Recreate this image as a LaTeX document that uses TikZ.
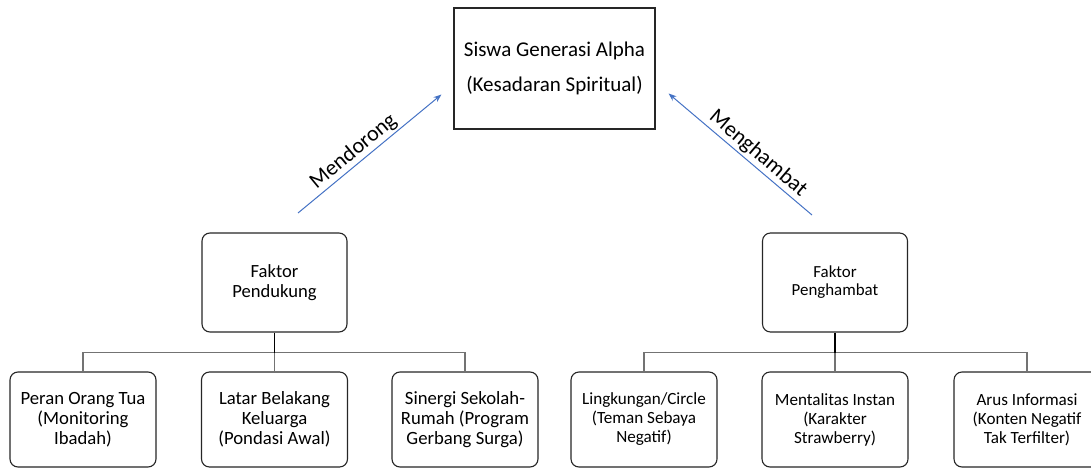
\documentclass[tikz,border=0pt]{standalone}
\usepackage{fontspec}
\setmainfont{Carlito}
\usepackage{tikz}
\usetikzlibrary{arrows.meta}
\definecolor{arrowblue}{RGB}{68,114,196}

\begin{document}
\begin{tikzpicture}[
                    x=1pt, y=-1pt,
                    every node/.style={fill=white},
                    block/.style={rectangle, draw=black!85, line width=1.1pt, minimum width=201pt, minimum height=121pt, inner sep=2pt},
                    faktor/.style={rectangle, rounded corners=8pt, draw=black!85, line width=1.1pt, minimum width=145pt, minimum height=99pt, inner sep=2pt},
                    item/.style={faktor, minimum width=146pt, minimum height=95pt},
                    conn/.style={draw=black!55, line width=1.4pt},
                    stub/.style={draw=black, line width=1.6pt},
                    dorong/.style={draw=arrowblue, line width=1pt, -{Stealth[length=8pt, width=6pt]}},
                    lbl/.style={sloped, above, fill=none, inner sep=2pt, font=\fontsize{22}{26}\selectfont},
                    align=center,
                ]
                \useasboundingbox (0,0) rectangle (1091,468);
                \clip (0,0) rectangle (1091,468);

                \node[block, font=\fontsize{21}{35}\selectfont] (siswa) at (554.5,68.5) {Siswa Generasi Alpha\\ (Kesadaran Spiritual)};
                \node[faktor, font=\fontsize{18.6}{20}\selectfont] (pend) at (274.5,282.5) {Faktor\\ Pendukung};
                \node[faktor, font=\fontsize{16.9}{18}\selectfont] (peng) at (835,282.5) {Faktor\\ Penghambat};

                \node[item, font=\fontsize{18.7}{20}\selectfont] (peran) at (83,419.5) {Peran Orang Tua\\ (Monitoring\\ Ibadah)};
                \node[item, font=\fontsize{18.7}{20}\selectfont] (latar) at (274.5,419.5) {Latar Belakang\\ Keluarga\\ (Pondasi Awal)};
                \node[item, font=\fontsize{18.7}{20}\selectfont] (sinergi) at (465,419.5) {Sinergi Sekolah-\\ Rumah (Program\\ Gerbang Surga)};
                \node[item, font=\fontsize{17.1}{19}\selectfont] (lingk) at (644,419.5) {Lingkungan/Circle\\ (Teman Sebaya\\ Negatif)};
                \node[item, font=\fontsize{17.1}{19}\selectfont] (mental) at (835,419.5) {Mentalitas Instan\\ (Karakter\\ Strawberry)};
                \node[item, font=\fontsize{17.1}{19}\selectfont] (arus) at (1027,419.5) {Arus Informasi\\ (Konten Negatif\\ Tak Terfilter)};

                \coordinate (barL) at ([yshift=-20pt]pend.south);
                \coordinate (barR) at ([yshift=-20pt]peng.south);
                \draw[conn] (peran.north) |- (barL) -| (sinergi.north);
                \draw[conn] (barL) -- (latar.north);
                \draw[stub] (pend.south) -- (barL);
                \draw[conn] (lingk.north) |- (barR) -| (arus.north);
                \draw[conn] (barR) -- (mental.north);
                \draw[stub] (peng.south) -- (barR);

                \coordinate (dorongA) at (298,213);
                \coordinate (dorongB) at ([xshift=-12pt, yshift=-26pt]siswa.west);
                \coordinate (hambatA) at (812,215);
                \coordinate (hambatB) at ([xshift=13pt, yshift=-25pt]siswa.east);
                \draw[dorong] (dorongA) -- node[lbl, pos=0.44] {Mendorong} (dorongB);
                \draw[dorong] (hambatA) -- node[lbl, pos=0.43] {Menghambat} (hambatB);
            \end{tikzpicture}
\end{document}
